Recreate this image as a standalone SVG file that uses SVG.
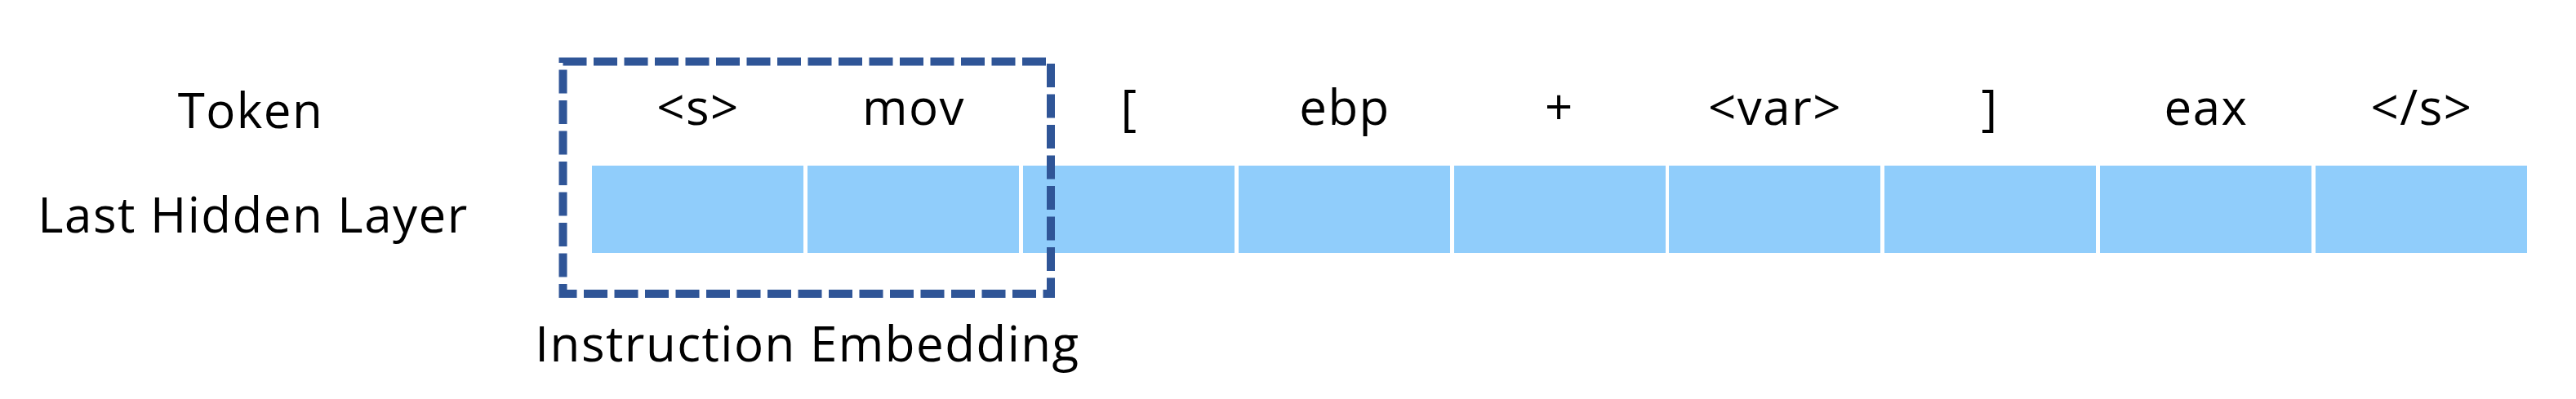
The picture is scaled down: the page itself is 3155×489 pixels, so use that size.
<svg xmlns="http://www.w3.org/2000/svg" width="3155" height="489" viewBox="0 0 3155 489">
<style>
text{font-family:"Open Sans","Noto Sans","Liberation Sans",sans-serif;font-size:60px;fill:#000;letter-spacing:1.5px}
.tok{text-anchor:middle}
.cell{fill:#90CDFB}
.box{fill:none;stroke:#2F5597;stroke-width:10;stroke-dasharray:29 8.5}
</style>
<rect width="3155" height="489" fill="#fff"/>
<g id="labels">
<text x="307" y="157" class="tok">Token</text>
<text x="310" y="285" class="tok">Last Hidden Layer</text>
</g>
<g id="hidden-layer">
<rect class="cell" x="725" y="203" width="259" height="107"/>
<rect class="cell" x="989" y="203" width="259" height="107"/>
<rect class="cell" x="1253" y="203" width="259" height="107"/>
<rect class="cell" x="1517" y="203" width="259" height="107"/>
<rect class="cell" x="1781" y="203" width="259" height="107"/>
<rect class="cell" x="2044" y="203" width="259" height="107"/>
<rect class="cell" x="2308" y="203" width="259" height="107"/>
<rect class="cell" x="2572" y="203" width="259" height="107"/>
<rect class="cell" x="2836" y="203" width="259" height="107"/>
</g>
<g id="tokens">
<text class="tok" x="855" y="153">&lt;s&gt;</text>
<text class="tok" x="1119" y="153">mov</text>
<text class="tok" x="1383" y="153">[</text>
<text class="tok" x="1647" y="153">ebp</text>
<text class="tok" x="1910" y="153">+</text>
<text class="tok" x="2174" y="153">&lt;var&gt;</text>
<text class="tok" x="2437" y="153">]</text>
<text class="tok" x="2702" y="153">eax</text>
<text class="tok" x="2966" y="153">&lt;/s&gt;</text>
</g>
<g id="instruction-embedding">
<rect class="box" x="689.5" y="75.5" width="597.5" height="284.5"/>
<text class="tok" x="989" y="443">Instruction Embedding</text>
</g>
</svg>
